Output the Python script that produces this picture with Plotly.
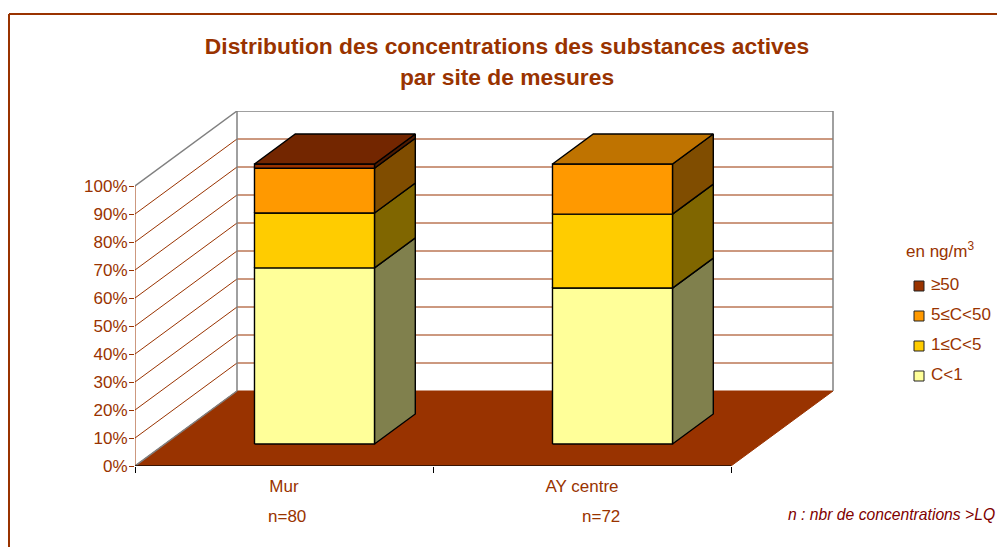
import plotly.graph_objects as go

# ---- data ----
categories = ["Mur", "AY centre"]
counts = ["n=80", "n=72"]
series_names = ["C<1", "1≤C<5", "5≤C<50", "≥50"]
s_lt1 = [62.9, 55.7]
s_1_5 = [19.6, 26.4]
s_5_50 = [16.0, 17.9]
s_ge50 = [1.5, 0.0]
percent_ticks = [0, 10, 20, 30, 40, 50, 60, 70, 80, 90, 100]
percent_labels = [f"{v}%" for v in percent_ticks]

series_values = [s_lt1, s_1_5, s_5_50, s_ge50]
front_colors = ["#FFFF99", "#FFCC00", "#FF9900", "#993300"]
side_colors = ["#80804D", "#806600", "#804D00", "#4D1A00"]
top_colors = ["#BFBF73", "#BF9900", "#BF7300", "#732600"]

RED = "#993300"
W, H = 997, 547
L, R, T, B = 135, 997, 111, 466          # plot area in pixels
PX_PER_CAT = 298.0
PX_PER_PCT = 2.8
DX = 102 / PX_PER_CAT                    # full depth shift in axis units
DY = 75 / PX_PER_PCT
BAR_W = 120 / PX_PER_CAT
BAR_SHIFT = 0.6 / PX_PER_CAT
BAR_D0, BAR_D1 = 0.293, 0.693            # bar's depth span
FS = 17


def xpx(p):
    return (p - L) / PX_PER_CAT


def ypx(p):
    return (B - p) / PX_PER_PCT


def xpaper(p):
    return (p - L) / (R - L)


def ypaper(p):
    return (B - p) / (B - T)


def proj(x, y, d):
    return x + d * DX, y + d * DY


def poly(pts, fill, line=None, lw=1.0, name=None):
    xs = [p[0] for p in pts] + [pts[0][0]]
    ys = [p[1] for p in pts] + [pts[0][1]]
    return go.Scatter(x=xs, y=ys, mode="lines", fill="toself", fillcolor=fill,
                      line=dict(color=line or fill, width=lw), hoverinfo="skip",
                      showlegend=False, cliponaxis=False, name=name)


def seg(p, q, color, lw=1.0):
    return go.Scatter(x=[p[0], q[0]], y=[p[1], q[1]], mode="lines",
                      line=dict(color=color, width=lw), hoverinfo="skip",
                      showlegend=False, cliponaxis=False)


fig = go.Figure()
x_end = len(categories)

# floor
fig.add_trace(poly([proj(0, 0, 0), proj(x_end, 0, 0), proj(x_end, 0, 1), proj(0, 0, 1)], RED))

# walls and gridlines
for v in percent_ticks[1:]:
    col = "#808080" if v == 100 else RED
    lw = 1.5 if v == 100 else 1
    fig.add_trace(seg(proj(0, v, 0), proj(0, v, 1), col, lw))
    fig.add_trace(seg(proj(0, v, 1), proj(x_end, v, 1), col, lw))
fig.add_trace(seg(proj(0, 0, 0), proj(0, 0, 1), "#808080", 1.5))
fig.add_trace(seg(proj(0, 0, 1), proj(0, 100, 1), "#808080", 1.5))
fig.add_trace(seg(proj(x_end, 0, 1), proj(x_end, 100, 1), "#808080", 1.5))

# bars
for c in range(len(categories)):
    x0 = c + 0.5 - BAR_W / 2 + BAR_SHIFT
    x1 = c + 0.5 + BAR_W / 2 + BAR_SHIFT
    base = 0.0
    top_idx = 0
    for s, vals in enumerate(series_values):
        v = vals[c]
        if v <= 0:
            continue
        y0, y1 = base, base + v
        fig.add_trace(poly([proj(x1, y0, BAR_D0), proj(x1, y0, BAR_D1),
                            proj(x1, y1, BAR_D1), proj(x1, y1, BAR_D0)],
                           side_colors[s], "black", 1.4, series_names[s]))
        fig.add_trace(poly([proj(x0, y0, BAR_D0), proj(x1, y0, BAR_D0),
                            proj(x1, y1, BAR_D0), proj(x0, y1, BAR_D0)],
                           front_colors[s], "black", 1.4, series_names[s]))
        base = y1
        top_idx = s
    fig.add_trace(poly([proj(x0, base, BAR_D0), proj(x1, base, BAR_D0),
                        proj(x1, base, BAR_D1), proj(x0, base, BAR_D1)],
                       top_colors[top_idx], "black", 1.4))

# legend keys
legend_y = [376, 346, 316, 286]
for s, ly in enumerate(legend_y):
    fig.add_trace(go.Scatter(
        x=[xpx(919)], y=[ypx(ly)], mode="markers+text", text=["\u00a0" + series_names[s]],
        textposition="middle right", textfont=dict(size=FS, color=RED),
        marker=dict(symbol="square", size=10, color=front_colors[s],
                    line=dict(color="#222", width=1)),
        name=series_names[s], showlegend=False, cliponaxis=False, hoverinfo="skip"))

ann_font = dict(family="Liberation Sans, Arial, sans-serif", size=FS, color=RED)
annotations = [
    dict(x=xpaper(287), y=ypaper(516), xref="paper", yref="paper", xanchor="center", yanchor="middle",
         text=counts[0], showarrow=False, font=ann_font),
    dict(x=xpaper(601), y=ypaper(516), xref="paper", yref="paper", xanchor="center", yanchor="middle",
         text=counts[1], showarrow=False, font=ann_font),
    dict(x=xpaper(904), y=ypaper(250), xref="paper", yref="paper", xanchor="left", yanchor="middle",
         showarrow=False, text="en ng/m<sup>3</sup>", font=ann_font),
    dict(x=xpaper(786), y=ypaper(514), xref="paper", yref="paper", xanchor="left", yanchor="middle",
         showarrow=False, text="<i>n : nbr de concentrations &gt;LQ</i>",
         font=dict(family="Liberation Sans, Arial, sans-serif", size=15.7, color="#800000")),
]

fig.update_layout(
    width=W, height=H, autosize=False,
    paper_bgcolor="white", plot_bgcolor="rgba(0,0,0,0)",
    margin=dict(l=L, r=W - R, t=T, b=H - B),
    showlegend=False,
    font=dict(family="Liberation Sans, Arial, sans-serif", size=FS, color=RED),
    title=dict(
        text='<b><span style="font-size:22.8px">Distribution des concentrations des substances actives<br>'
             'par site de mesures</span></b>',
        font=dict(family="Liberation Sans, Arial, sans-serif", size=24, color=RED),
        x=507 / W, xanchor="center", y=1 - 54 / H, yanchor="top", xref="container", yref="container"),
    xaxis=dict(range=[0, (R - L) / PX_PER_CAT], tickvals=[0.5, 1.5], ticktext=categories,
               ticks="", showgrid=False, zeroline=False, showline=False, ticklabelstandoff=8,
               minor=dict(tickvals=[0, 1, 2], ticks="outside", ticklen=6, tickcolor="black", tickwidth=1),
               tickfont=dict(size=FS, color=RED)),
    yaxis=dict(range=[0, (B - T) / PX_PER_PCT], tickvals=percent_ticks, ticktext=percent_labels,
               ticks="outside", ticklen=5, tickcolor=RED, tickwidth=1, ticklabelstandoff=-2,
               showgrid=False, zeroline=False, showline=False,
               tickfont=dict(size=FS, color=RED)),
    annotations=annotations,
    shapes=[
        dict(type="line", xref="x", yref="y", x0=0, x1=0, y0=0, y1=100, line=dict(color=RED, width=1)),
        dict(type="line", xref="x", yref="y", x0=0, x1=x_end, y0=0, y1=0, line=dict(color="#1a0a00", width=1.5)),
        dict(type="line", xref="paper", yref="paper", layer="below",
             x0=xpaper(9), x1=xpaper(W), y0=ypaper(14), y1=ypaper(14),
             line=dict(color=RED, width=2)),
        dict(type="line", xref="paper", yref="paper", layer="below",
             x0=xpaper(9), x1=xpaper(9), y0=ypaper(14), y1=ypaper(H),
             line=dict(color=RED, width=2)),
    ],
)

fig.write_html("out.html", config={"displayModeBar": False},
               post_script="document.body.style.margin='0';document.body.style.overflow='hidden';")
